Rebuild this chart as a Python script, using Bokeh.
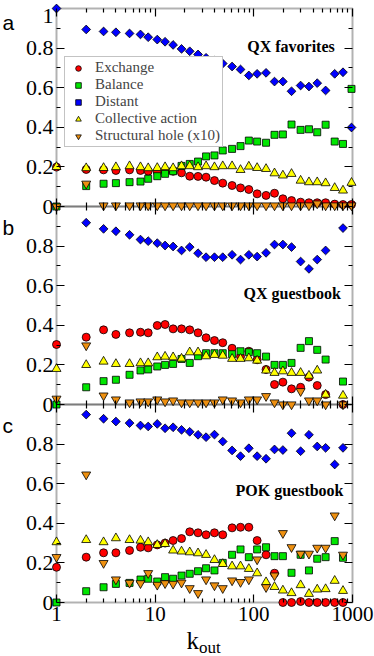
import numpy as np
from bokeh.plotting import figure
from bokeh.models import (Range1d, LogAxis, LinearAxis, FixedTicker, BoxAnnotation, Label,
                          BasicTickFormatter, CustomJSTickFormatter, Legend, LegendItem)
from bokeh.embed import file_html
from bokeh.resources import INLINE

N = None

# ---------------- data ----------------
k_out = [1, 2, 3, 4, 5.5, 7.1, 8.5, 10.5, 12.6, 15.2, 18.5, 22.4, 27.2, 32.8, 39.9, 48.4,
         60.2, 73.3, 89, 108, 133, 162, 197, 241, 298, 362, 439, 534, 660, 801, 977]

# panel a: QX favorites
a_exchange = [0.199, 0.187, 0.185, 0.182, 0.185, 0.182, 0.178, 0.175, 0.178, 0.178, 0.170, 0.153,
              0.152, 0.148, 0.131, 0.118, 0.106, 0.094, 0.086, 0.064, 0.056, 0.067, 0.039, 0.030,
              0.022, 0.019, 0.019, 0.019, 0.012, 0.010, 0.010]
a_balance = [0.0, 0.103, 0.115, 0.118, 0.123, 0.126, 0.140, 0.153, 0.165, 0.178, 0.205, 0.215,
             0.227, 0.253, 0.258, 0.283, 0.291, 0.305, 0.333, 0.328, 0.322, 0.362, 0.364, 0.414,
             0.387, 0.390, 0.375, 0.413, 0.328, 0.316, 0.594]
a_distant = [1.0, 0.894, 0.884, 0.880, 0.874, 0.869, 0.855, 0.843, 0.832, 0.816, 0.796, 0.784,
             0.768, 0.751, 0.737, 0.722, 0.707, 0.692, 0.662, 0.670, 0.675, 0.631, 0.631, 0.582,
             0.611, 0.606, 0.623, 0.586, 0.670, 0.678, 0.399]
a_collective = [0.200, 0.194, 0.195, 0.199, 0.204, 0.199, 0.194, 0.195, 0.199, 0.194, 0.204, 0.204,
                0.199, 0.204, 0.199, 0.204, 0.204, 0.185, 0.202, 0.195, 0.190, 0.168, 0.157, 0.165,
                0.131, 0.123, 0.123, 0.118, 0.094, 0.081, 0.120]
a_hole = [0.0, 0.115, 0.005, 0.005, 0.005, 0.005, 0.005, 0.005, 0.005, 0.005, 0.005, 0.005,
          0.005, 0.005, 0.005, 0.005, 0.005, 0.005, 0.005, 0.005, 0.005, 0.005, 0.005, 0.005,
          0.005, 0.005, 0.015, 0.005, 0.005, 0.005, 0.005]

# panel b: QX guestbook
b_exchange = [0.303, 0.340, 0.377, 0.354, 0.362, 0.365, 0.362, 0.399, 0.404, 0.382, 0.382, 0.377,
              0.362, 0.337, 0.323, 0.312, 0.284, 0.242, 0.269, 0.226, 0.177, 0.101, 0.113, 0.079,
              0.087, 0.138, 0.096, 0.050, N, 0.0, N]
b_balance = [0.0, 0.087, 0.118, 0.125, 0.150, 0.172, 0.177, 0.192, 0.200, 0.205, 0.230, 0.210,
             0.244, 0.259, 0.259, 0.259, 0.254, 0.269, 0.264, 0.259, 0.242, 0.200, 0.200, 0.210,
             0.286, 0.320, 0.276, 0.227, N, 0.116, N]
b_distant = [N, 0.918, 0.887, 0.875, 0.857, 0.833, 0.825, 0.815, 0.803, 0.798, 0.778, 0.795,
             0.764, 0.744, 0.744, 0.744, 0.756, 0.732, 0.756, 0.747, 0.766, 0.808, 0.808, 0.795,
             0.722, 0.685, 0.732, 0.778, N, 0.891, N]
b_collective = [0.180, 0.200, 0.217, 0.205, 0.205, 0.209, 0.209, 0.239, 0.242, 0.239, 0.232, 0.264,
                0.264, 0.244, 0.251, 0.247, 0.231, 0.231, 0.234, 0.222, 0.172, 0.160, 0.168, 0.160,
                0.160, 0.146, 0.172, 0.050, N, 0.045, N]
b_hole = [0.029, 0.298, 0.045, 0.025, 0.010, 0.015, 0.015, 0.025, 0.015, 0.020, 0.010, 0.010,
          0.010, 0.010, 0.010, 0.025, 0.020, 0.010, 0.025, 0.025, 0.042, 0.010, 0.000, 0.000,
          0.067, 0.020, 0.020, 0.000, N, 0.000, N]

# panel c: POK guestbook
c_exchange = [0.178, 0.229, 0.251, 0.251, 0.263, 0.279, 0.276, 0.291, 0.300, 0.313, 0.323, 0.357,
              0.352, 0.342, 0.352, 0.342, 0.377, 0.380, 0.380, 0.313, 0.241, 0.148, 0.0, 0.0,
              0.005, 0.0, 0.0, 0.0, 0.0, 0.0, N]
c_balance = [0.0, 0.057, 0.077, 0.094, 0.099, 0.116, 0.120, 0.106, 0.128, 0.120, 0.136, 0.145,
             0.158, 0.173, 0.162, 0.200, 0.241, 0.268, 0.229, 0.268, 0.279, 0.234, 0.234, 0.150,
             0.241, 0.162, 0.221, 0.229, 0.310, 0.226, N]
c_distant = [N, 0.949, 0.928, 0.914, 0.906, 0.894, 0.889, 0.902, 0.880, 0.885, 0.872, 0.862,
             0.847, 0.835, 0.848, 0.813, 0.768, 0.739, 0.779, 0.739, 0.726, 0.773, 0.770, 0.855,
             0.764, 0.847, 0.788, 0.781, 0.697, 0.781, N]
c_collective = [0.305, 0.316, 0.305, 0.325, 0.316, 0.313, 0.305, 0.291, 0.296, 0.263, 0.258, 0.254,
                0.249, 0.241, 0.215, 0.195, 0.183, 0.183, 0.170, 0.148, 0.103, 0.079, 0.061, 0.048,
                0.088, 0.044, 0.066, 0.068, 0.110, 0.059, N]
c_hole = [0.229, 0.646, 0.199, 0.116, 0.099, 0.097, 0.148, 0.089, 0.097, 0.094, 0.100, 0.072,
          0.047, 0.116, 0.086, 0.072, 0.111, 0.103, 0.116, 0.217, 0.077, 0.136, 0.350, 0.279,
          0.246, 0.246, 0.276, 0.276, 0.439, 0.241, N]

panel_names = ["a", "b", "c"]
panel_titles = ["QX favorites", "QX guestbook", "POK guestbook"]
series_labels = ["Exchange", "Balance", "Distant", "Collective action", "Structural hole (x10)"]
panel_data = {
    "a": [a_exchange, a_balance, a_distant, a_collective, a_hole],
    "b": [b_exchange, b_balance, b_distant, b_collective, b_hole],
    "c": [c_exchange, c_balance, c_distant, c_collective, c_hole],
}

x_min, x_max = 1, 1000
x_tick_values = [1, 10, 100, 1000]
x_tick_labels = ["1", "10", "100", "1000"]
y_tick_values = [0.0, 0.2, 0.4, 0.6, 0.8]
y_tick_labels = ["0", "0.2", "0.4", "0.6", "0.8"]
y_top_label = "1"
x_label_main, x_label_sub = "k", "out"

# ---------------- layout / styles ----------------
W, H = 374, 656
FL, FR, FT, FB = 56, 352, 8, 602            # data box in canvas pixels
decades = np.log10(x_max / x_min)
ppd = (FR - FL) / decades
ppu = (FB - FT) / 3.0
x_start = x_min * 10 ** (-FL / ppd)
x_end = x_max * 10 ** ((W - FR) / ppd)
y_start = -(H - FB) / ppu
y_end = 3.0 + FT / ppu

markers = ["circle", "square", "square", "triangle", "inverted_triangle"]
sizes = [8, 7, 6.2, 9, 9]
angles = [0, 0, np.pi / 4, 0, 0]
colors = ["#ff0000", "#00e600", "#0000ff", "#ffff00", "#ee9010"]
SERIF = "Liberation Serif"
panel_offset = {"a": 2, "b": 1, "c": 0}

p = figure(width=W, height=H, x_axis_type="log",
           x_range=Range1d(x_start, x_end), y_range=Range1d(y_start, y_end),
           x_axis_location=None, y_axis_location=None,
           output_backend="svg", toolbar_location=None,
           min_border=0, min_border_left=0, min_border_right=0,
           min_border_top=0, min_border_bottom=0)
p.extra_y_ranges = {n: Range1d(y_start - off, y_end - off) for n, off in panel_offset.items()}
p.xgrid.visible = False
p.ygrid.visible = False
p.outline_line_color = None
p.background_fill_color = "white"
p.border_fill_color = "white"

# panel boxes
for n in panel_names:
    p.add_layout(BoxAnnotation(left=x_min, right=x_max, bottom=0, top=1, y_range_name=n,
                               fill_color=None, fill_alpha=0, line_color="black",
                               line_width=2, level="underlay"))

# tickers
x_minor = [m * d for d in (1, 10, 100) for m in range(2, 10)]
x_ticker = FixedTicker(ticks=x_tick_values, minor_ticks=x_minor)
y_major, y_labels = [], {}
for off in (0, 1, 2):
    for v, lab in zip(y_tick_values, y_tick_labels):
        t = round(off + v, 1)
        y_major.append(t)
        y_labels[t] = lab
y_minor = [round(off + v, 2) for off in (0, 1, 2) for v in (0.1, 0.3, 0.5, 0.7, 0.9)]
y_ticker = FixedTicker(ticks=y_major, minor_ticks=y_minor)

blank = CustomJSTickFormatter(code="return ''")
tick_style = dict(major_tick_line_color="black", minor_tick_line_color="black",
                  major_tick_line_width=1.2, minor_tick_line_width=1.2,
                  axis_line_color=None)
blank_style = dict(formatter=blank, major_label_text_font_size="1px", major_label_standoff=0,
                   major_label_text_color=None)

# bottom (with labels) and top
p.add_layout(LogAxis(fixed_location=0, ticker=x_ticker, formatter=BasicTickFormatter(),
                     major_label_overrides=dict(zip(x_tick_values, x_tick_labels)),
                     major_tick_in=8, major_tick_out=0, minor_tick_in=4, minor_tick_out=0,
                     major_label_text_font=SERIF, major_label_text_font_size="21px",
                     major_label_text_color="black", major_label_standoff=4,
                     **tick_style), "below")
p.add_layout(LogAxis(fixed_location=3, ticker=x_ticker,
                     major_tick_in=8, major_tick_out=0, minor_tick_in=4, minor_tick_out=0,
                     **tick_style, **blank_style), "above")
# panel separators: ticks on both sides
for loc in (1, 2):
    p.add_layout(LogAxis(fixed_location=loc, ticker=x_ticker,
                         major_tick_in=8, major_tick_out=8, minor_tick_in=4, minor_tick_out=4,
                         **tick_style, **blank_style), "below")
# left (labels) and right
p.add_layout(LinearAxis(fixed_location=x_min, ticker=y_ticker,
                        major_label_overrides=y_labels,
                        major_tick_in=8, major_tick_out=0, minor_tick_in=4, minor_tick_out=0,
                        major_label_text_font=SERIF, major_label_text_font_size="22px",
                        major_label_text_color="black", major_label_standoff=3,
                        **tick_style), "left")
p.add_layout(LinearAxis(fixed_location=x_max, ticker=y_ticker,
                        major_tick_in=8, major_tick_out=0, minor_tick_in=4, minor_tick_out=0,
                        **tick_style, **blank_style), "right")
# top label "1" of panel a (drawn separately so it stays inside the picture)
p.add_layout(Label(x=FL - 3, y=H - 15, x_units="screen", y_units="screen", text=y_top_label,
                   text_font=SERIF, text_font_size="22px", text_color="black",
                   text_align="right", text_baseline="alphabetic"))

# data
legend_items = []
for n in panel_names:
    for i, ys in enumerate(panel_data[n]):
        yv = np.array(ys, dtype=float)
        r = p.scatter(k_out, yv, y_range_name=n, marker=markers[i], size=sizes[i],
                      angle=angles[i], fill_color=colors[i], line_color="black", line_width=0.8)
        if n == "a":
            legend_items.append(LegendItem(label=series_labels[i], renderers=[r]))

legend = Legend(items=legend_items, location=(64, H - 147),
                label_text_font=SERIF, label_text_font_size="15px",
                border_line_color="#888888", border_line_width=1,
                background_fill_color="white", background_fill_alpha=1,
                padding=2, spacing=-3, glyph_height=14, glyph_width=22,
                label_height=14, label_standoff=6, margin=0)
p.add_layout(legend)

# panel titles and letters (canvas pixels, y measured from the bottom)
title_pos = [(246.7, H - 46), (243, H - 293.3), (235, H - 490)]
letter_pos = [(2, H - 22), (2, H - 227), (2, H - 425)]
for n, title, (tx, ty), (lx, ly) in zip(panel_names, panel_titles, title_pos, letter_pos):
    p.add_layout(Label(x=tx, y=ty, x_units="screen", y_units="screen", text=title,
                       text_font=SERIF, text_font_style="bold", text_font_size="16px",
                       text_color="black", text_baseline="alphabetic"))
    p.add_layout(Label(x=lx, y=ly, x_units="screen", y_units="screen", text=n,
                       text_font="Liberation Sans", text_font_size="21px", text_color="black",
                       text_baseline="alphabetic"))

# x-axis label k_out
p.add_layout(Label(x=186, y=H - 640, x_units="screen", y_units="screen", text=x_label_main,
                   text_font=SERIF, text_font_size="25px", text_color="black",
                   text_baseline="alphabetic"))
p.add_layout(Label(x=198.5, y=H - 647, x_units="screen", y_units="screen", text=x_label_sub,
                   text_font=SERIF, text_font_size="17px", text_color="black",
                   text_baseline="alphabetic"))

open("out.html", "w").write(file_html(p, INLINE))
